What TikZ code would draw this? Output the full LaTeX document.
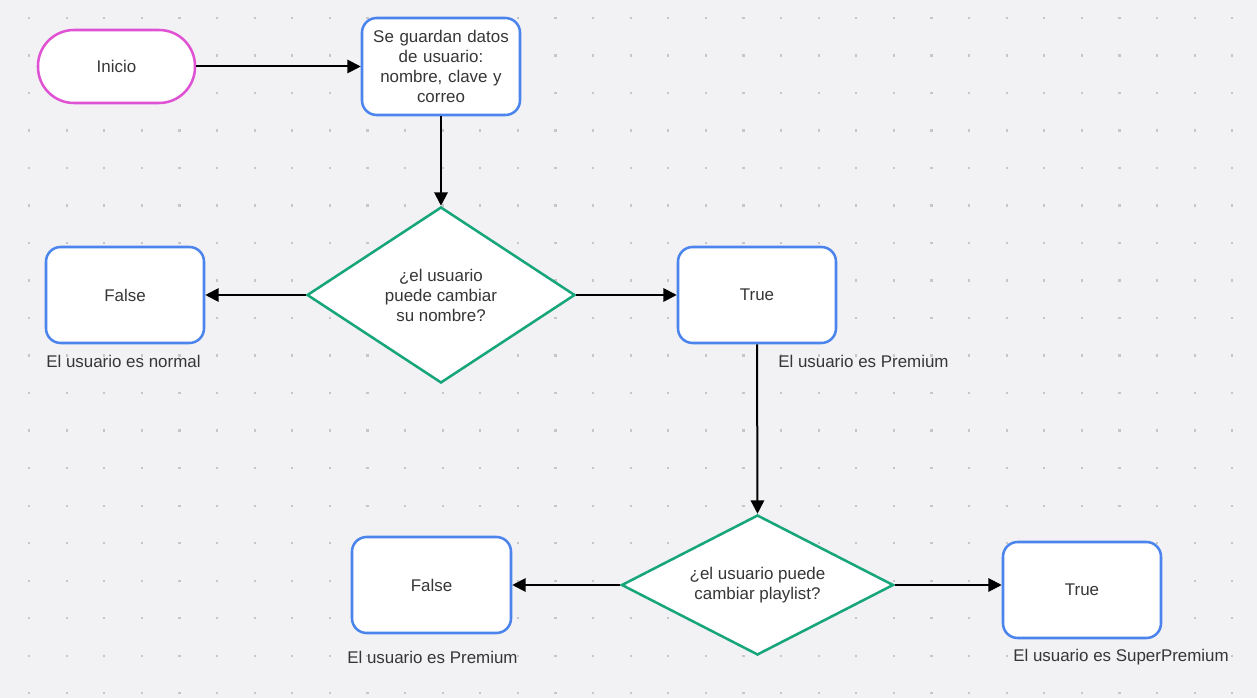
\documentclass[tikz,border=0pt]{standalone}
\usepackage{fontspec}
\setmainfont{Liberation Sans}
\usetikzlibrary{shapes.geometric,arrows.meta}
\definecolor{canvas}{HTML}{F2F2F5}
\definecolor{gridDot}{HTML}{C6C6CA}
\definecolor{startPink}{HTML}{E052D4}
\definecolor{boxBlue}{HTML}{4A84EC}
\definecolor{decGreen}{HTML}{17A57A}
\definecolor{ink}{HTML}{363636}
\begin{document}
\begin{tikzpicture}[x=0.75pt,y=-0.75pt,
  font=\fontsize{12.7pt}{15pt}\selectfont,
  base/.style={fill=white, line width=1.9pt, text=ink, align=center, inner sep=0pt},
  startbox/.style={base, draw=startPink, minimum width=117.75pt, minimum height=54.75pt, rounded corners=27pt},
  procbox/.style={base, draw=boxBlue, minimum width=118.5pt, minimum height=72pt, rounded corners=11pt},
  decision/.style={base, draw=decGreen, shape=diamond},
  note/.style={text=ink, anchor=west, inner sep=0pt},
  flow/.style={line width=1.5pt, -{Triangle[length=10pt,width=10pt]}}
]
% canvas with dotted grid
\fill[canvas] (0,0) rectangle (1257,698);
\useasboundingbox (0,0) rectangle (1257,698);
\foreach \i in {0,...,32}{
  \foreach \j in {0,...,18}{
    \fill[gridDot] ({29+37.6*\i-1},{18+37.5*\j-1}) rectangle ++(2.2,2.2);
  }
}

% nodes
\node[startbox] (start) at (116.5,66.5) {Inicio};
\node[procbox, minimum height=72.75pt, text width=105pt] (store) at (441,66.5)
  {Se guardan datos\\de usuario:\\nombre, clave y\\correo};
\node[decision, aspect=1.5, minimum width=201pt, minimum height=132pt] (q1) at (441,295)
  {¿el usuario\\puede cambiar\\ su nombre?};
\node[procbox] (f1) at (125,295) {False};
\node[procbox] (t1) at (757,295) {True};
\node[decision, aspect=2, minimum width=204pt, minimum height=105pt] (q2) at (757.5,585)
  {¿el usuario puede\\cambiar playlist?};
\node[procbox, minimum width=119.25pt] (f2) at (431.5,585) {False};
\node[procbox] (t2) at (1082,590) {True};

% notes under the result boxes
\node[note] (n1) at (46,361) {El usuario es normal};
\node[note] (n2) at (778,361) {El usuario es Premium};
\node[note] (n3) at (347,657) {El usuario es Premium};
\node[note] (n4) at (1013,657) {El usuario es SuperPremium};

% connectors
\draw[flow] (start.east) -- (store.west);
\draw[flow] (store.south) -- (q1.north);
\draw[flow] (q1.west) -- (f1.east);
\draw[flow] (q1.east) -- (t1.west);
\draw[flow] (t1.south) -- (q2.north);
\draw[flow] (q2.west) -- (q2.west -| f2.east);
\draw[flow] (q2.east) -- (q2.east -| t2.west);
\end{tikzpicture}
\end{document}
